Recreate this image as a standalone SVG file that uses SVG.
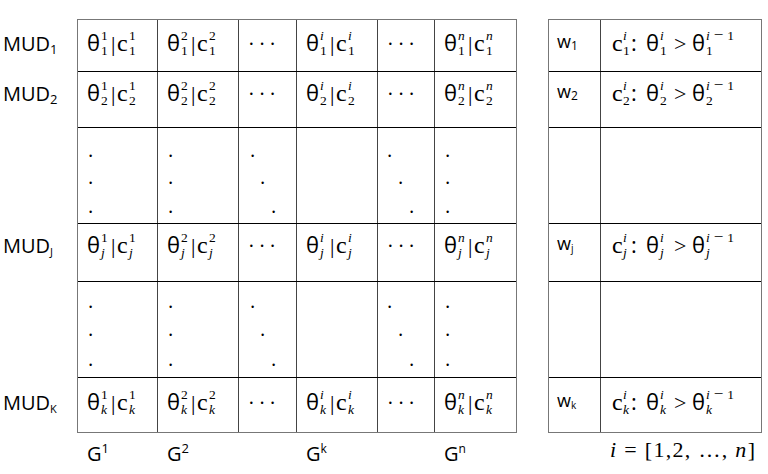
<svg xmlns="http://www.w3.org/2000/svg" width="768" height="474" viewBox="0 0 768 474">
<style>
.s{font-family:"Open Sans","DejaVu Sans",sans-serif;fill:#000}
.m{font-family:"Liberation Serif","DejaVu Serif",serif;fill:#000}
.lb{font-size:20px}
.wl{font-size:18px}
.th{font-size:22px}
.c{font-size:24px}
.bar{font-size:22px}
.gt{font-size:22px}
.sc{font-size:13.5px}
.mi{font-size:17px}
.it{font-style:italic}
.dot{font-size:20px}
.ell{font-size:20px}
.ln{stroke:#000;stroke-width:1;fill:none}
.ol{stroke:#777;stroke-width:1;fill:none}
.vl{stroke:#444;stroke-width:1;fill:none}
</style>
<rect width="768" height="474" fill="#fff"/>
<g id="grid">
<g class="vl">
<path d="M157.5 19V433M238.5 19V433M296.5 19V433M377.5 19V433M434.5 19V433M600.5 19V433"/>
</g>
<g class="ln">
<path d="M77 71.5H516M77 127.5H516M77 223.5H516M77 281.5H516M77 377.5H516"/>
<path d="M548 71.5H762M548 127.5H762M548 223.5H762M548 281.5H762M548 377.5H762"/>
</g>
<rect class="ol" x="77.5" y="19.5" width="439" height="413"/>
<rect class="ol" x="548.5" y="19.5" width="213" height="413"/>
</g>

<g id="row-labels">
<text class="s lb" x="3" y="51">MUD<tspan font-size="13" dy="3">1</tspan></text>
<text class="s lb" x="3" y="101">MUD<tspan font-size="13" dy="3">2</tspan></text>
<text class="s lb" x="3" y="253">MUD<tspan font-size="11" dy="3">J</tspan></text>
<text class="s lb" x="3" y="410">MUD<tspan font-size="11" dy="3">K</tspan></text>
</g>

<!-- Row 1 (B=51) -->
<g id="cell-1-1">
<text class="s th" x="87" y="51">θ</text><text class="m sc" x="101" y="40">1</text><text class="m sc" x="101" y="55">1</text>
<text class="m bar" x="111" y="51">|</text><text class="m c" x="117" y="51">c</text><text class="m sc" x="129" y="40">1</text><text class="m sc" x="129" y="55">1</text>
</g>
<g id="cell-1-2">
<text class="s th" x="167" y="51">θ</text><text class="m sc" x="181" y="40">2</text><text class="m sc" x="181" y="55">1</text>
<text class="m bar" x="191" y="51">|</text><text class="m c" x="197" y="51">c</text><text class="m sc" x="209" y="40">2</text><text class="m sc" x="209" y="55">1</text>
</g>
<g id="cell-1-3"><text class="m ell" x="248" y="51" textLength="28" lengthAdjust="spacing">· · ·</text></g>
<g id="cell-1-4">
<text class="s th" x="306" y="51">θ</text><text class="m sc it" x="320" y="40">i</text><text class="m sc" x="320" y="55">1</text>
<text class="m bar" x="330" y="51">|</text><text class="m c" x="336" y="51">c</text><text class="m sc it" x="348" y="40">i</text><text class="m sc" x="348" y="55">1</text>
</g>
<g id="cell-1-5"><text class="m ell" x="387" y="51" textLength="28" lengthAdjust="spacing">· · ·</text></g>
<g id="cell-1-6">
<text class="s th" x="444" y="51">θ</text><text class="m sc it" x="458" y="40">n</text><text class="m sc" x="458" y="55">1</text>
<text class="m bar" x="468" y="51">|</text><text class="m c" x="474" y="51">c</text><text class="m sc it" x="486" y="40">n</text><text class="m sc" x="486" y="55">1</text>
</g>

<!-- Row 2 (B=101) -->
<g id="cell-2-1">
<text class="s th" x="87" y="101">θ</text><text class="m sc" x="101" y="90">1</text><text class="m sc" x="101" y="105">2</text>
<text class="m bar" x="111" y="101">|</text><text class="m c" x="117" y="101">c</text><text class="m sc" x="129" y="90">1</text><text class="m sc" x="129" y="105">2</text>
</g>
<g id="cell-2-2">
<text class="s th" x="167" y="101">θ</text><text class="m sc" x="181" y="90">2</text><text class="m sc" x="181" y="105">2</text>
<text class="m bar" x="191" y="101">|</text><text class="m c" x="197" y="101">c</text><text class="m sc" x="209" y="90">2</text><text class="m sc" x="209" y="105">2</text>
</g>
<g id="cell-2-3"><text class="m ell" x="248" y="101" textLength="28" lengthAdjust="spacing">· · ·</text></g>
<g id="cell-2-4">
<text class="s th" x="306" y="101">θ</text><text class="m sc it" x="320" y="90">i</text><text class="m sc" x="320" y="105">2</text>
<text class="m bar" x="330" y="101">|</text><text class="m c" x="336" y="101">c</text><text class="m sc it" x="348" y="90">i</text><text class="m sc" x="348" y="105">2</text>
</g>
<g id="cell-2-5"><text class="m ell" x="387" y="101" textLength="28" lengthAdjust="spacing">· · ·</text></g>
<g id="cell-2-6">
<text class="s th" x="444" y="101">θ</text><text class="m sc it" x="458" y="90">n</text><text class="m sc" x="458" y="105">2</text>
<text class="m bar" x="468" y="101">|</text><text class="m c" x="474" y="101">c</text><text class="m sc it" x="486" y="90">n</text><text class="m sc" x="486" y="105">2</text>
</g>

<!-- Dots rows -->
<g id="dots-1">
<text class="s dot" x="88" y="157">.</text><text class="s dot" x="88" y="184">.</text><text class="s dot" x="88" y="213">.</text>
<text class="s dot" x="168" y="157">.</text><text class="s dot" x="168" y="184">.</text><text class="s dot" x="168" y="213">.</text>
<text class="s dot" x="250" y="157">.</text><text class="s dot" x="260" y="184">.</text><text class="s dot" x="271" y="213">.</text>
<text class="s dot" x="387" y="157">.</text><text class="s dot" x="398" y="184">.</text><text class="s dot" x="409" y="213">.</text>
<text class="s dot" x="445" y="157">.</text><text class="s dot" x="445" y="184">.</text><text class="s dot" x="445" y="213">.</text>
</g>
<g id="dots-2">
<text class="s dot" x="88" y="308">.</text><text class="s dot" x="88" y="336">.</text><text class="s dot" x="88" y="366">.</text>
<text class="s dot" x="168" y="308">.</text><text class="s dot" x="168" y="336">.</text><text class="s dot" x="168" y="366">.</text>
<text class="s dot" x="250" y="308">.</text><text class="s dot" x="260" y="336">.</text><text class="s dot" x="271" y="366">.</text>
<text class="s dot" x="387" y="308">.</text><text class="s dot" x="398" y="336">.</text><text class="s dot" x="409" y="366">.</text>
<text class="s dot" x="445" y="308">.</text><text class="s dot" x="445" y="336">.</text><text class="s dot" x="445" y="366">.</text>
</g>

<!-- Row J (B=253) -->
<g id="cell-j-1">
<text class="s th" x="87" y="253">θ</text><text class="m sc" x="101" y="242">1</text><text class="m sc it" x="101" y="257">j</text>
<text class="m bar" x="111" y="253">|</text><text class="m c" x="117" y="253">c</text><text class="m sc" x="129" y="242">1</text><text class="m sc it" x="129" y="257">j</text>
</g>
<g id="cell-j-2">
<text class="s th" x="167" y="253">θ</text><text class="m sc" x="181" y="242">2</text><text class="m sc it" x="181" y="257">j</text>
<text class="m bar" x="191" y="253">|</text><text class="m c" x="197" y="253">c</text><text class="m sc" x="209" y="242">2</text><text class="m sc it" x="209" y="257">j</text>
</g>
<g id="cell-j-3"><text class="m ell" x="248" y="253" textLength="28" lengthAdjust="spacing">· · ·</text></g>
<g id="cell-j-4">
<text class="s th" x="306" y="253">θ</text><text class="m sc it" x="320" y="242">i</text><text class="m sc it" x="320" y="257">j</text>
<text class="m bar" x="330" y="253">|</text><text class="m c" x="336" y="253">c</text><text class="m sc it" x="348" y="242">i</text><text class="m sc it" x="348" y="257">j</text>
</g>
<g id="cell-j-5"><text class="m ell" x="387" y="253" textLength="28" lengthAdjust="spacing">· · ·</text></g>
<g id="cell-j-6">
<text class="s th" x="444" y="253">θ</text><text class="m sc it" x="458" y="242">n</text><text class="m sc it" x="458" y="257">j</text>
<text class="m bar" x="468" y="253">|</text><text class="m c" x="474" y="253">c</text><text class="m sc it" x="486" y="242">n</text><text class="m sc it" x="486" y="257">j</text>
</g>

<!-- Row K (B=410) -->
<g id="cell-k-1">
<text class="s th" x="87" y="410">θ</text><text class="m sc" x="101" y="399">1</text><text class="m sc it" x="101" y="414">k</text>
<text class="m bar" x="111" y="410">|</text><text class="m c" x="117" y="410">c</text><text class="m sc" x="129" y="399">1</text><text class="m sc it" x="129" y="414">k</text>
</g>
<g id="cell-k-2">
<text class="s th" x="167" y="410">θ</text><text class="m sc" x="181" y="399">2</text><text class="m sc it" x="181" y="414">k</text>
<text class="m bar" x="191" y="410">|</text><text class="m c" x="197" y="410">c</text><text class="m sc" x="209" y="399">2</text><text class="m sc it" x="209" y="414">k</text>
</g>
<g id="cell-k-3"><text class="m ell" x="248" y="410" textLength="28" lengthAdjust="spacing">· · ·</text></g>
<g id="cell-k-4">
<text class="s th" x="306" y="410">θ</text><text class="m sc it" x="320" y="399">i</text><text class="m sc it" x="320" y="414">k</text>
<text class="m bar" x="330" y="410">|</text><text class="m c" x="336" y="410">c</text><text class="m sc it" x="348" y="399">i</text><text class="m sc it" x="348" y="414">k</text>
</g>
<g id="cell-k-5"><text class="m ell" x="387" y="410" textLength="28" lengthAdjust="spacing">· · ·</text></g>
<g id="cell-k-6">
<text class="s th" x="444" y="410">θ</text><text class="m sc it" x="458" y="399">n</text><text class="m sc it" x="458" y="414">k</text>
<text class="m bar" x="468" y="410">|</text><text class="m c" x="474" y="410">c</text><text class="m sc it" x="486" y="399">n</text><text class="m sc it" x="486" y="414">k</text>
</g>

<!-- Right table -->
<g id="w-1"><text class="s wl" x="557" y="48">w<tspan font-size="12" dy="2">1</tspan></text></g>
<g id="w-2"><text class="s wl" x="557" y="98">w<tspan font-size="12" dy="2">2</tspan></text></g>
<g id="w-j"><text class="s wl" x="557" y="250">w<tspan font-size="10" dy="2">j</tspan></text></g>
<g id="w-k"><text class="s wl" x="557" y="407">w<tspan font-size="10" dy="2">k</tspan></text></g>

<g id="cond-1">
<text class="m c" x="612" y="51">c</text><text class="m sc it" x="623" y="40">i</text><text class="m sc" x="623" y="55">1</text>
<text class="s th" x="631" y="51">:</text>
<text class="s th" x="646" y="51">θ</text><text class="m sc it" x="660" y="40">i</text><text class="m sc" x="660" y="55">1</text>
<text class="m gt" x="674" y="51">&gt;</text>
<text class="s th" x="692" y="51">θ</text><text class="m sc" x="706" y="40"><tspan class="it">i</tspan><tspan class="mi" dx="4">−</tspan><tspan dx="4">1</tspan></text><text class="m sc" x="706" y="55">1</text>
</g>
<g id="cond-2">
<text class="m c" x="612" y="101">c</text><text class="m sc it" x="623" y="90">i</text><text class="m sc" x="623" y="105">2</text>
<text class="s th" x="631" y="101">:</text>
<text class="s th" x="646" y="101">θ</text><text class="m sc it" x="660" y="90">i</text><text class="m sc" x="660" y="105">2</text>
<text class="m gt" x="674" y="101">&gt;</text>
<text class="s th" x="692" y="101">θ</text><text class="m sc" x="706" y="90"><tspan class="it">i</tspan><tspan class="mi" dx="4">−</tspan><tspan dx="4">1</tspan></text><text class="m sc" x="706" y="105">2</text>
</g>
<g id="cond-j">
<text class="m c" x="612" y="253">c</text><text class="m sc it" x="623" y="242">i</text><text class="m sc it" x="623" y="257">j</text>
<text class="s th" x="631" y="253">:</text>
<text class="s th" x="646" y="253">θ</text><text class="m sc it" x="660" y="242">i</text><text class="m sc it" x="660" y="257">j</text>
<text class="m gt" x="674" y="253">&gt;</text>
<text class="s th" x="692" y="253">θ</text><text class="m sc" x="706" y="242"><tspan class="it">i</tspan><tspan class="mi" dx="4">−</tspan><tspan dx="4">1</tspan></text><text class="m sc it" x="706" y="257">j</text>
</g>
<g id="cond-k">
<text class="m c" x="612" y="410">c</text><text class="m sc it" x="623" y="399">i</text><text class="m sc it" x="623" y="414">k</text>
<text class="s th" x="631" y="410">:</text>
<text class="s th" x="646" y="410">θ</text><text class="m sc it" x="660" y="399">i</text><text class="m sc it" x="660" y="414">k</text>
<text class="m gt" x="674" y="410">&gt;</text>
<text class="s th" x="692" y="410">θ</text><text class="m sc" x="706" y="399"><tspan class="it">i</tspan><tspan class="mi" dx="4">−</tspan><tspan dx="4">1</tspan></text><text class="m sc it" x="706" y="414">k</text>
</g>

<g id="col-labels">
<text class="s lb" x="87" y="461">G<tspan font-size="13" dy="-8">1</tspan></text>
<text class="s lb" x="167" y="461">G<tspan font-size="13" dy="-8">2</tspan></text>
<text class="s lb" x="306" y="461">G<tspan font-size="12" dy="-8">k</tspan></text>
<text class="s lb" x="444" y="461">G<tspan font-size="12" dy="-8">n</tspan></text>
</g>
<g id="range">
<text class="m" font-size="22" x="610" y="457" textLength="145" lengthAdjust="spacing"><tspan class="it">i</tspan> = [1,2, …, <tspan class="it">n</tspan>]</text>
</g>
</svg>
